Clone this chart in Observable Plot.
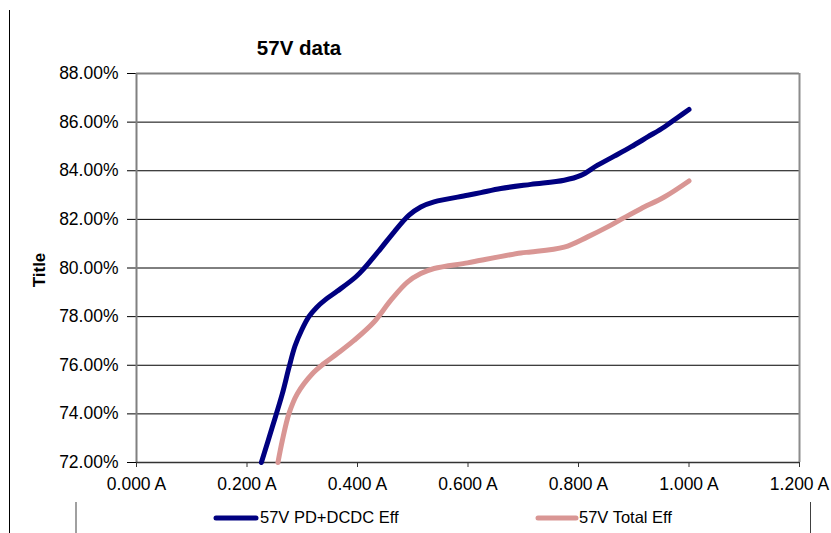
<!DOCTYPE html>
<html>
<head>
<meta charset="utf-8">
<script src="https://cdn.jsdelivr.net/npm/d3@7"></script>
<script src="https://cdn.jsdelivr.net/npm/@observablehq/plot@0.6"></script>
<style>
  html, body { margin: 0; padding: 0; background: #fff; }
  #chart { width: 831px; height: 533px; overflow: hidden; }
</style>
</head>
<body>
<div id="chart"></div>
<script>
// ---- data ----
const titleText = "57V data";
const yLabelText = "Title";
const seriesNames = ["57V PD+DCDC Eff", "57V Total Eff"];
const seriesColors = ["#000080", "#D99694"];

const xTicks = [0, 0.2, 0.4, 0.6, 0.8, 1.0, 1.2];
const yTicks = [0.72, 0.74, 0.76, 0.78, 0.80, 0.82, 0.84, 0.86, 0.88];

// 57V PD+DCDC Eff
const pdCurrent = [0.226, 0.2458, 0.2640, 0.2759, 0.2870, 0.2990, 0.3120, 0.3260, 0.3420, 0.3636, 0.3967, 0.4118, 0.4420, 0.4661, 0.4933, 0.5145, 0.5386, 0.5991, 0.6232, 0.6594, 0.7138, 0.7741, 0.8043, 0.8346, 0.8647, 0.8949, 0.9252, 0.9553, 0.9795, 1.0];
const pdEff = [0.7200, 0.7346, 0.7483, 0.7590, 0.7680, 0.7745, 0.7800, 0.7838, 0.7870, 0.7905, 0.7963, 0.7998, 0.8080, 0.8148, 0.8217, 0.8251, 0.8272, 0.8299, 0.8310, 0.8327, 0.8344, 0.8361, 0.8381, 0.8423, 0.8460, 0.8498, 0.8539, 0.8580, 0.8619, 0.8652];

// 57V Total Eff
const totCurrent = [0.256, 0.2640, 0.2759, 0.2911, 0.3183, 0.3393, 0.3636, 0.3937, 0.4299, 0.4601, 0.4904, 0.5145, 0.5386, 0.5991, 0.6232, 0.6957, 0.7138, 0.7741, 0.8165, 0.8527, 0.8828, 0.9130, 0.9553, 1.0];
const totEff = [0.7200, 0.7291, 0.7401, 0.7483, 0.7565, 0.7607, 0.7648, 0.7702, 0.7778, 0.7867, 0.7942, 0.7977, 0.7998, 0.8021, 0.8032, 0.8062, 0.8066, 0.8086, 0.8128, 0.8169, 0.8207, 0.8244, 0.8292, 0.8358];

// ---- build tables ----
const pdData = pdCurrent.map((x, i) => ({x, y: pdEff[i]}));
const totData = totCurrent.map((x, i) => ({x, y: totEff[i]}));

const W = 831, H = 533;
const FONT = "'Liberation Sans', Arial, sans-serif";

const plot = Plot.plot({
  width: W,
  height: H,
  marginLeft: 136,
  marginRight: 32,
  marginTop: 73,
  marginBottom: 71,
  style: {fontFamily: FONT, fontSize: "17.5px", color: "#000", background: "#fff", overflow: "visible"},
  x: {domain: [0, 1.2]},
  y: {domain: [0.72, 0.88]},
  marks: [
    Plot.gridY(yTicks.slice(1, -1), {stroke: "#000", strokeOpacity: 1, strokeWidth: 1}),
    Plot.ruleY([0.88], {stroke: "#808080", strokeWidth: 2}),
    Plot.ruleX([1.2], {stroke: "#8c8c8c", strokeWidth: 2}),
    Plot.axisX(xTicks, {tickFormat: d => d3.format(".3f")(d) + " A", tickSize: 5, tickPadding: 10, stroke: "#333", fill: "#000", label: null}),
    Plot.axisY(yTicks, {tickFormat: d3.format(".2%"), tickSize: 9, tickPadding: 9, stroke: "#000", fill: "#000", label: null}),
    Plot.ruleX([0], {stroke: "#808080", strokeWidth: 2}),
    Plot.ruleY([0.72], {stroke: "#333", strokeWidth: 1.5}),
    Plot.line(pdData, {x: "x", y: "y", stroke: seriesColors[0], strokeWidth: 5, curve: "catmull-rom", strokeLinecap: "round", strokeLinejoin: "round"}),
    Plot.line(totData, {x: "x", y: "y", stroke: seriesColors[1], strokeWidth: 5, curve: "catmull-rom", strokeLinecap: "round", strokeLinejoin: "round"})
  ]
});

document.getElementById("chart").appendChild(plot);

// ---- decorations: title, axis title, legend, chart borders ----
const svg = d3.select(plot);
const deco = svg.append("g").attr("font-family", FONT).attr("text-anchor", "start");

// chart area outer left border
deco.append("line").attr("x1", 9.5).attr("x2", 9.5).attr("y1", 10).attr("y2", H)
  .attr("stroke", "#000").attr("stroke-width", 1);

// title
deco.append("text").attr("x", 299).attr("y", 55).attr("text-anchor", "middle")
  .attr("font-size", "20.5px").attr("font-weight", "bold").attr("fill", "#000").text(titleText);

// y axis title
deco.append("text").attr("transform", "translate(45,270) rotate(-90)").attr("text-anchor", "middle")
  .attr("font-size", "17px").attr("font-weight", "bold").attr("fill", "#000").text(yLabelText);

// legend box edges
deco.append("line").attr("x1", 76).attr("x2", 76).attr("y1", 502).attr("y2", H)
  .attr("stroke", "#808080").attr("stroke-width", 1.5);
deco.append("line").attr("x1", 810.5).attr("x2", 810.5).attr("y1", 502).attr("y2", H)
  .attr("stroke", "#404040").attr("stroke-width", 1);

// legend entries
const legendPos = [{x0: 216, x1: 256, tx: 260}, {x0: 538, x1: 576, tx: 579}];
seriesNames.forEach((name, i) => {
  const p = legendPos[i];
  deco.append("line").attr("x1", p.x0).attr("x2", p.x1).attr("y1", 518).attr("y2", 518)
    .attr("stroke", seriesColors[i]).attr("stroke-width", 5).attr("stroke-linecap", "round");
  deco.append("text").attr("x", p.tx).attr("y", 523).attr("text-anchor", "start")
    .attr("font-size", "16.5px").attr("fill", "#000").text(name);
});
</script>
</body>
</html>
